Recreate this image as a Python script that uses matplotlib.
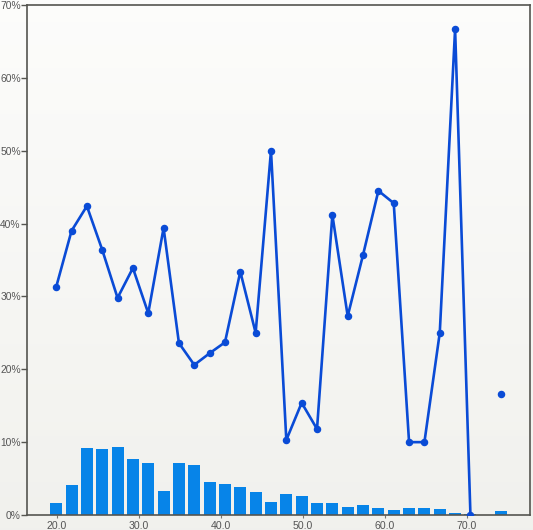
import numpy as np
import matplotlib
matplotlib.use("Agg")
import matplotlib.pyplot as plt
from matplotlib.ticker import FuncFormatter

# Bin centres (age) and values
bin_start = 19.9
bin_step = 1.871
n_bins = 30
bar_pct = [1.65, 4.1, 9.2, 9.06, 9.3, 7.7, 7.1, 3.3, 7.1, 6.9,
           4.5, 4.25, 3.85, 3.16, 1.8, 2.9, 2.6, 1.65, 1.65, 1.1,
           1.37, 0.96, 0.69, 0.96, 0.96, 0.82, 0.27, 0.14, 0.0, 0.55]
line_pct = [31.3, 39.0, 42.4, 36.4, 29.8, 33.9, 27.7, 39.4, 23.6, 20.6,
            22.2, 23.7, 33.4, 25.0, 50.0, 10.3, 15.4, 11.8, 41.2, 27.3,
            35.7, 44.5, 42.8, 10.0, 10.0, 25.0, 66.7, 0.0, np.nan, 16.6]
x_ticks = [20.0, 30.0, 40.0, 50.0, 60.0, 70.0]
y_ticks = [0, 10, 20, 30, 40, 50, 60, 70]

centers = np.array([bin_start + i * bin_step for i in range(n_bins)])
bars = np.array(bar_pct)
bars_plot = np.where(bars > 0, bars, np.nan)

plt.rcParams['font.family'] = ['Liberation Sans', 'DejaVu Sans']

W, H = 533, 530
fig = plt.figure(figsize=(W / 100, H / 100), dpi=100)

# gradient background over whole figure
bg = fig.add_axes([0, 0, 1, 1], zorder=-10)
grad = np.linspace(0, 1, 256).reshape(-1, 1)
top = np.array([0.990, 0.990, 0.985])
bot = np.array([0.945, 0.945, 0.930])
img = top[None, None, :] * (1 - grad[:, :, None]) + bot[None, None, :] * grad[:, :, None]
bg.imshow(img, aspect="auto", extent=[0, 1, 0, 1])
bg.set_axis_off()

ax = fig.add_axes([27 / W, 15 / H, (530 - 27) / W, (515 - 5) / H])
ax.patch.set_alpha(0)

ax.bar(centers, bars_plot, width=1.46, color="#0784e8", zorder=2)
ax.plot(centers, line_pct, color="#0a4bd6", lw=1.9, marker="o", ms=4.4,
        zorder=3, solid_joinstyle="round")

ax.set_xlim(16.34, 77.68)
ax.set_ylim(0, 70)
ax.set_xticks(x_ticks)
ax.set_yticks(y_ticks)
ax.xaxis.set_major_formatter(FuncFormatter(lambda v, p: f"{v:.1f}"))
ax.yaxis.set_major_formatter(FuncFormatter(lambda v, p: f"{int(round(v))}%"))

for s in ax.spines.values():
    s.set_color("#555550")
    s.set_linewidth(1.2)

ax.tick_params(axis="x", length=2, width=0.8, color="#777770", pad=2,
               labelsize=7.6, labelcolor="#555555")
ax.tick_params(axis="y", length=4, width=1, color="#555550", pad=0.5,
               labelsize=7.4, labelcolor="#555555")

fig.savefig("out.png", dpi=100)
